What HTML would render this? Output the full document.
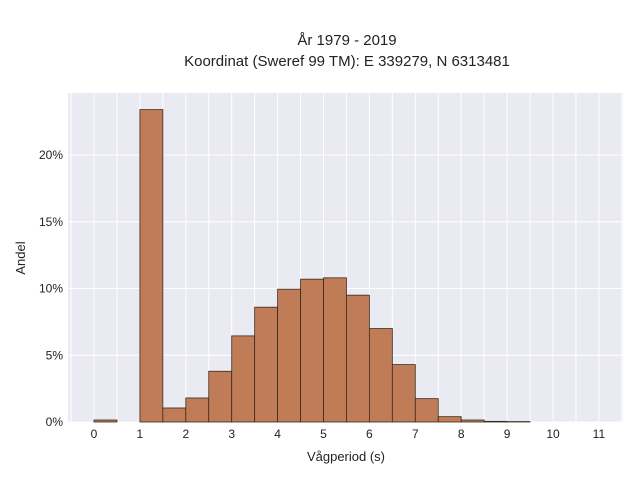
<!DOCTYPE html>
<html><head><meta charset="utf-8"><style>
body{margin:0;background:#fff;}
svg text{font-family:"Liberation Sans",sans-serif;fill:#222;}
</style></head><body>
<svg width="640" height="480">
<rect x="68" y="93" width="555" height="329" fill="#eaeaf2"/>
<g id="grid"></g>
<g id="bars"></g>
<g id="ticks"></g>
<text x="347" y="45" text-anchor="middle" font-size="15">År 1979 - 2019</text>
<text x="347" y="66" text-anchor="middle" font-size="15">Koordinat (Sweref 99 TM): E 339279, N 6313481</text>
<text x="346" y="461" text-anchor="middle" font-size="13">Vågperiod (s)</text>
<text x="25" y="258" text-anchor="middle" font-size="13" transform="rotate(-90 25 258)">Andel</text>
</svg>
<script>
const binStarts=[0,0.5,1,1.5,2,2.5,3,3.5,4,4.5,5,5.5,6,6.5,7,7.5,8,8.5,9];
const values=[0.15,0,23.4,1.05,1.8,3.8,6.45,8.6,9.95,10.7,10.8,9.5,7.0,4.3,1.75,0.4,0.15,0.05,0.03];
const xTicks=[0,1,2,3,4,5,6,7,8,9,10,11];
const yTicks=[0,5,10,15,20];
const ns="http://www.w3.org/2000/svg";
const X=v=>94+v*45.9, Y=v=>422-v*13.35;
function mk(t,a,p){const e=document.createElementNS(ns,t);for(const k in a)e.setAttribute(k,a[k]);p.appendChild(e);return e;}
const g=document.getElementById('grid'),b=document.getElementById('bars'),tk=document.getElementById('ticks');
for(let v=-0.5;v<=11.5;v+=0.5){const l=mk('line',{x1:X(v),x2:X(v),y1:93,y2:422,stroke:'#fff','stroke-width':1},g);

}
yTicks.forEach(v=>{const l=mk('line',{x1:68,x2:623,y1:Y(v),y2:Y(v),stroke:'#fff','stroke-width':1},g);


const t=mk('text',{x:63,y:Y(v)+4,'text-anchor':'end','font-size':12},tk);t.textContent=v+'%';

});
xTicks.forEach(v=>{const t=mk('text',{x:X(v),y:438,'text-anchor':'middle','font-size':12},tk);t.textContent=v;

});
binStarts.forEach((s,i)=>{if(values[i]<=0)return;const r=mk('rect',{x:X(s),y:Y(values[i]),width:X(s+0.5)-X(s),height:422-Y(values[i]),fill:'#bf7c56',stroke:'#3a2a22','stroke-width':0.8},b);

});
</script>
</body></html>
